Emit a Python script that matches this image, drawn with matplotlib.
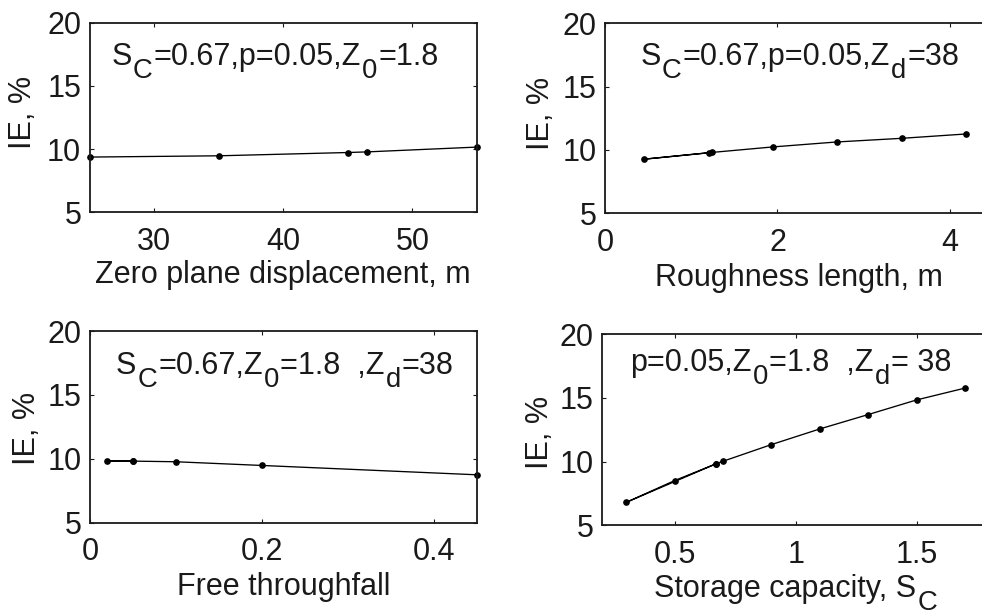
import matplotlib
matplotlib.use("Agg")
import matplotlib.pyplot as plt
from matplotlib.transforms import IdentityTransform

plt.rcParams['font.family'] = ['Liberation Sans', 'DejaVu Sans']

# Panel 1: zero plane displacement
zd_x = [25, 35, 45, 46.5, 55]
zd_y = [9.37, 9.47, 9.73, 9.78, 10.16]
# Panel 2: roughness length (order as plotted)
z0_x = [1.24, 0.45, 1.20, 1.95, 2.69, 3.45, 4.19]
z0_y = [9.80, 9.27, 9.78, 10.24, 10.63, 10.92, 11.26]
# Panel 3: free throughfall
p_x = [0.05, 0.02, 0.05, 0.10, 0.20, 0.45]
p_y = [9.82, 9.84, 9.82, 9.77, 9.48, 8.75]
# Panel 4: storage capacity
sc_x = [0.67, 0.30, 0.50, 0.67, 0.70, 0.90, 1.10, 1.30, 1.50, 1.70]
sc_y = [9.82, 6.80, 8.51, 9.82, 10.03, 11.34, 12.57, 13.70, 14.85, 15.78]

# text pieces: (text, is_subscript)
xlabels = [[('Zero plane displacement, m', False)],
           [('Roughness length, m', False)],
           [('Free throughfall', False)],
           [('Storage capacity, S', False), ('C', True)]]
notes = [[('S', False), ('C', True), ('=0.67,p=0.05,Z', False), ('0', True), ('=1.8', False)],
         [('S', False), ('C', True), ('=0.67,p=0.05,Z', False), ('d', True), ('=38', False)],
         [('S', False), ('C', True), ('=0.67,Z', False), ('0', True), ('=1.8  ,Z', False),
          ('d', True), ('=38', False)],
         [('p=0.05,Z', False), ('0', True), ('=1.8  ,Z', False), ('d', True), ('= 38', False)]]
xlims = [(25, 55), (0, 4.5), (0, 0.45), (0.2, 1.8)]
xticks = [[30, 40, 50], [0, 2, 4], [0, 0.2, 0.4], [0.5, 1, 1.5]]
xticklabels = [['30', '40', '50'], ['0', '2', '4'], ['0', '0.2', '0.4'], ['0.5', '1', '1.5']]
yticks = [5, 10, 15, 20]

W, H = 982, 612
fig = plt.figure(figsize=(W / 100, H / 100), dpi=100)
renderer = fig.canvas.get_renderer()
positions = [[0.0912, 0.6531, 0.3945, 0.3098],
             [0.6164, 0.6515, 0.3945, 0.3105],
             [0.0917, 0.1459, 0.3938, 0.3132],
             [0.6130, 0.1417, 0.3945, 0.3120]]
# pixel anchors (x, baseline y from top)
note_px = [(111.7, 65), (640.3, 65), (116, 374.3), (630.3, 371)]
xlab_px = [(283.3, 282.5), (798.8, 286), (283.3, 595), (795.5, 597.5)]
ylab_pos = [(-0.172, 0.526), (-0.166, 0.528), (-0.164, 0.491), (-0.160, 0.486)]
data = [(zd_x, zd_y), (z0_x, z0_y), (p_x, p_y), (sc_x, sc_y)]

fs = 22
tc = '#1a1a1a'


def rich(x, ytop, segs, size, ha='left'):
    objs = []
    cx = x
    y = H - ytop
    for txt, sub in segs:
        s = size * 0.9 if sub else size
        yy = y - (12.5 if sub else 0)
        t = fig.text(cx, yy, txt, fontsize=s, color=tc, ha='left', va='baseline',
                     transform=IdentityTransform())
        w = t.get_window_extent(renderer).width
        cx += w + 1.0
        objs.append(t)
    if ha == 'center':
        shift = (cx - 1.0 - x) / 2
        for t in objs:
            px, py = t.get_position()
            t.set_position((px - shift, py))
    return objs


for i in range(4):
    ax = fig.add_axes(positions[i])
    x, y = data[i]
    ax.plot(x, y, color='black', lw=0.95, marker='o', ms=3.8, clip_on=False)
    ax.set_xlim(*xlims[i])
    ax.set_ylim(5, 20)
    ax.set_xticks(xticks[i])
    ax.set_xticklabels(xticklabels[i])
    ax.set_yticks(yticks)
    ax.tick_params(direction='in', length=3, width=0.8, top=True, right=True,
                   labelsize=fs, colors=tc)
    ax.tick_params(axis='x', pad=10.5)
    ax.tick_params(axis='y', pad=6)
    for s in ax.spines.values():
        s.set_linewidth(1.3)
        s.set_color(tc)
    ax.text(ylab_pos[i][0], ylab_pos[i][1], 'IE, %', rotation=90, ha='center',
            va='center', fontsize=fs, color=tc, transform=ax.transAxes)
    rich(note_px[i][0], note_px[i][1], notes[i], fs)
    rich(xlab_px[i][0], xlab_px[i][1], xlabels[i], fs, ha='center')

fig.savefig('out.png', dpi=100)
